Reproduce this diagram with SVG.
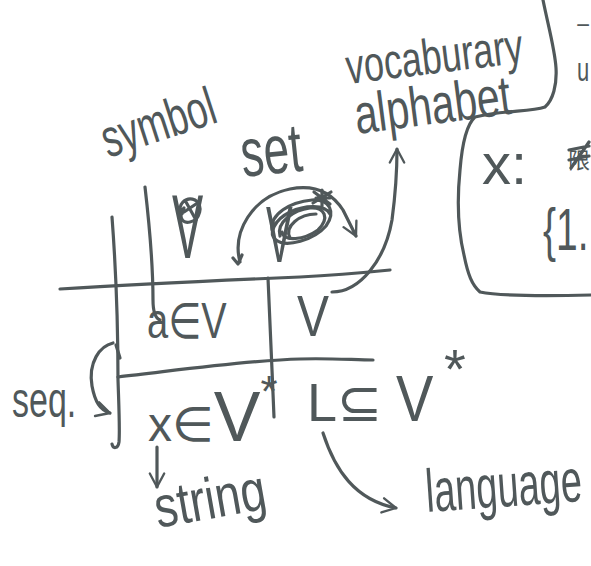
<svg xmlns="http://www.w3.org/2000/svg" width="591" height="566" viewBox="0 0 591 566">
  <style>
    .ink{fill:none;stroke:#50585a;stroke-width:3.2;stroke-linecap:round;stroke-linejoin:round}
    .hw{font-family:"Liberation Sans","DejaVu Sans",sans-serif;fill:#50585a}
    .cjk{font-family:"Noto Sans CJK SC","Noto Sans CJK JP",sans-serif;fill:#50585a}
  </style>
  <defs>
    <marker id="head" viewBox="0 0 20 20" refX="18" refY="10" markerWidth="18" markerHeight="18" markerUnits="userSpaceOnUse" orient="auto">
      <path d="M3,2 L18,10 L3,18" fill="none" stroke="#50585a" stroke-width="2.6" stroke-linecap="round" stroke-linejoin="round"/>
    </marker>
  </defs>

  <rect width="591" height="566" fill="#ffffff"/>

  <!-- table grid and connectors -->
  <g id="connectors" class="ink">
    <!-- grid lines -->
    <path d="M60,289 C140,284 230,280 300,277 C340,275 370,272 390,270"/>
    <path d="M112,217 C116,270 118,330 118,380 C119,410 120,430 119,442 C118,449 113,449 112,444"/>
    <path d="M268,278 C270,320 272,370 274,417"/>
    <path d="M118,377 C180,370 250,360 300,359 C330,358 355,360 373,360"/>
    <!-- symbol -> a -->
    <path d="M145,187 C150,230 153,270 153,300 C153,312 155,318 160,320"/>
    <!-- V -> vocabulary / alphabet -->
    <path d="M332,292 C360,292 385,260 392,220 C396,190 397,168 397,149" marker-end="url(#head)"/>
    <!-- set arc -->
    <path d="M240,262 C232,232 252,197 290,189 C315,184 332,193 343,210 L356,236" marker-end="url(#head)"/>
    <path d="M233,258 L238,264 L242,255"/>
    <!-- seq. bracket arrow -->
    <path d="M113,343 C100,346 88,362 92,386 C95,402 100,410 110,413" marker-end="url(#head)"/>
    <path d="M116,345 L120,358"/>
    <!-- x -> string -->
    <path d="M157,447 L157,487" marker-end="url(#head)"/>
    <!-- L -> language -->
    <path d="M323,433 C335,470 355,500 396,508" marker-end="url(#head)"/>
  </g>

  <!-- handwritten labels: natural width kept, glyphs stretched upright -->
  <g id="symbol">
    <text class="hw" x="0" y="0" font-size="37" transform="translate(108,158) rotate(-18) scale(1,1.45)">symbol</text>
  </g>

  <g id="set">
    <text class="hw" x="0" y="0" font-size="46" transform="translate(243,177) rotate(-6) scale(1,1.5)">set</text>
  </g>

  <g id="vocabulary">
    <text class="hw" x="0" y="0" font-size="36" transform="translate(348,84) rotate(-7) scale(1,1.38)">vocaburary</text>
    <text class="hw" x="0" y="0" font-size="41" transform="translate(357,134) rotate(-7.5) scale(1,1.36)">alphabet</text>
  </g>

  <!-- crossed-out symbols above the table -->
  <g id="struck-symbol">
    <text class="hw" font-size="90" transform="translate(172,258) scale(0.52,1)">V</text>
    <path class="ink" d="M182,214 C176,205 186,196 195,200 C204,205 200,220 190,222 C181,224 178,214 184,208 M184,212 L199,202 M186,202 L196,220"/>
  </g>
  <g id="struck-set">
    <text class="hw" font-size="80" transform="translate(266,262) scale(0.5,1)">V</text>
    <path class="ink" d="M272,230 C270,214 290,202 312,200 C330,199 336,212 326,226 C314,240 286,248 276,240 C268,234 274,220 290,212 C305,205 325,204 330,214"/>
    <path class="ink" d="M280,236 C276,222 294,210 310,208 C325,207 330,218 318,230 C304,240 284,242 282,232"/>
    <path class="ink" d="M290,238 C284,226 300,214 316,214"/>
    <path class="ink" d="M314,192 L330,204 M322,190 L322,206 M313,203 L331,192 M316,198 L330,198"/>
  </g>

  <!-- table cells -->
  <g id="cell-a">
    <text class="hw" x="0" y="0" font-size="38" transform="translate(147,338) scale(1,1.3)">a∈V</text>
  </g>
  <g id="cell-V">
    <text class="hw" x="0" y="0" font-size="48" transform="translate(297,336) scale(1,1.2)">V</text>
  </g>
  <g id="cell-x">
    <text class="hw" x="148" y="441" font-size="48">x∈<tspan font-size="70">V</tspan><tspan font-size="44" dy="-34">*</tspan></text>
  </g>
  <g id="cell-L">
    <text class="hw" x="307" y="421" font-size="54">L⊆</text>
    <text class="hw" x="0" y="0" font-size="56" transform="translate(396,421) scale(1,1.15)">V</text>
    <text class="hw" x="444" y="388" font-size="56">*</text>
  </g>

  <g id="seq">
    <text class="hw" x="0" y="0" font-size="34" transform="translate(12,417) scale(1,1.45)">seq.</text>
  </g>

  <g id="string">
    <text class="hw" x="0" y="0" font-size="46" transform="translate(158,528) rotate(-10) scale(1,1.27)">string</text>
  </g>

  <g id="language">
    <text class="hw" x="0" y="0" font-size="38" transform="translate(427,512) rotate(-4) scale(1,1.6)">language</text>
  </g>

  <!-- note box on the right -->
  <g id="note">
    <path class="ink" d="M543,0 C548,25 555,50 556,68 C557,85 553,100 545,107 C530,112 505,110 475,117 C466,125 462,145 460,170 C457,200 458,230 464,255 C468,275 472,285 480,292 C500,296 550,296 591,295"/>
    <text class="hw" x="482" y="184" font-size="58">x:</text>
    <text class="cjk" x="568" y="168" font-size="22">限</text>
    <path class="ink" d="M569,150 L589,146 M569,160 L589,156 M571,168 L589,142"/>
    <text class="hw" x="0" y="0" font-size="39" transform="translate(543,250) scale(1,1.5)">{1.</text>
    <text class="hw" x="576" y="33" font-size="24">−</text>
    <text class="hw" x="0" y="0" font-size="22" transform="translate(577,81) scale(1,1.5)">u</text>
  </g>
</svg>
